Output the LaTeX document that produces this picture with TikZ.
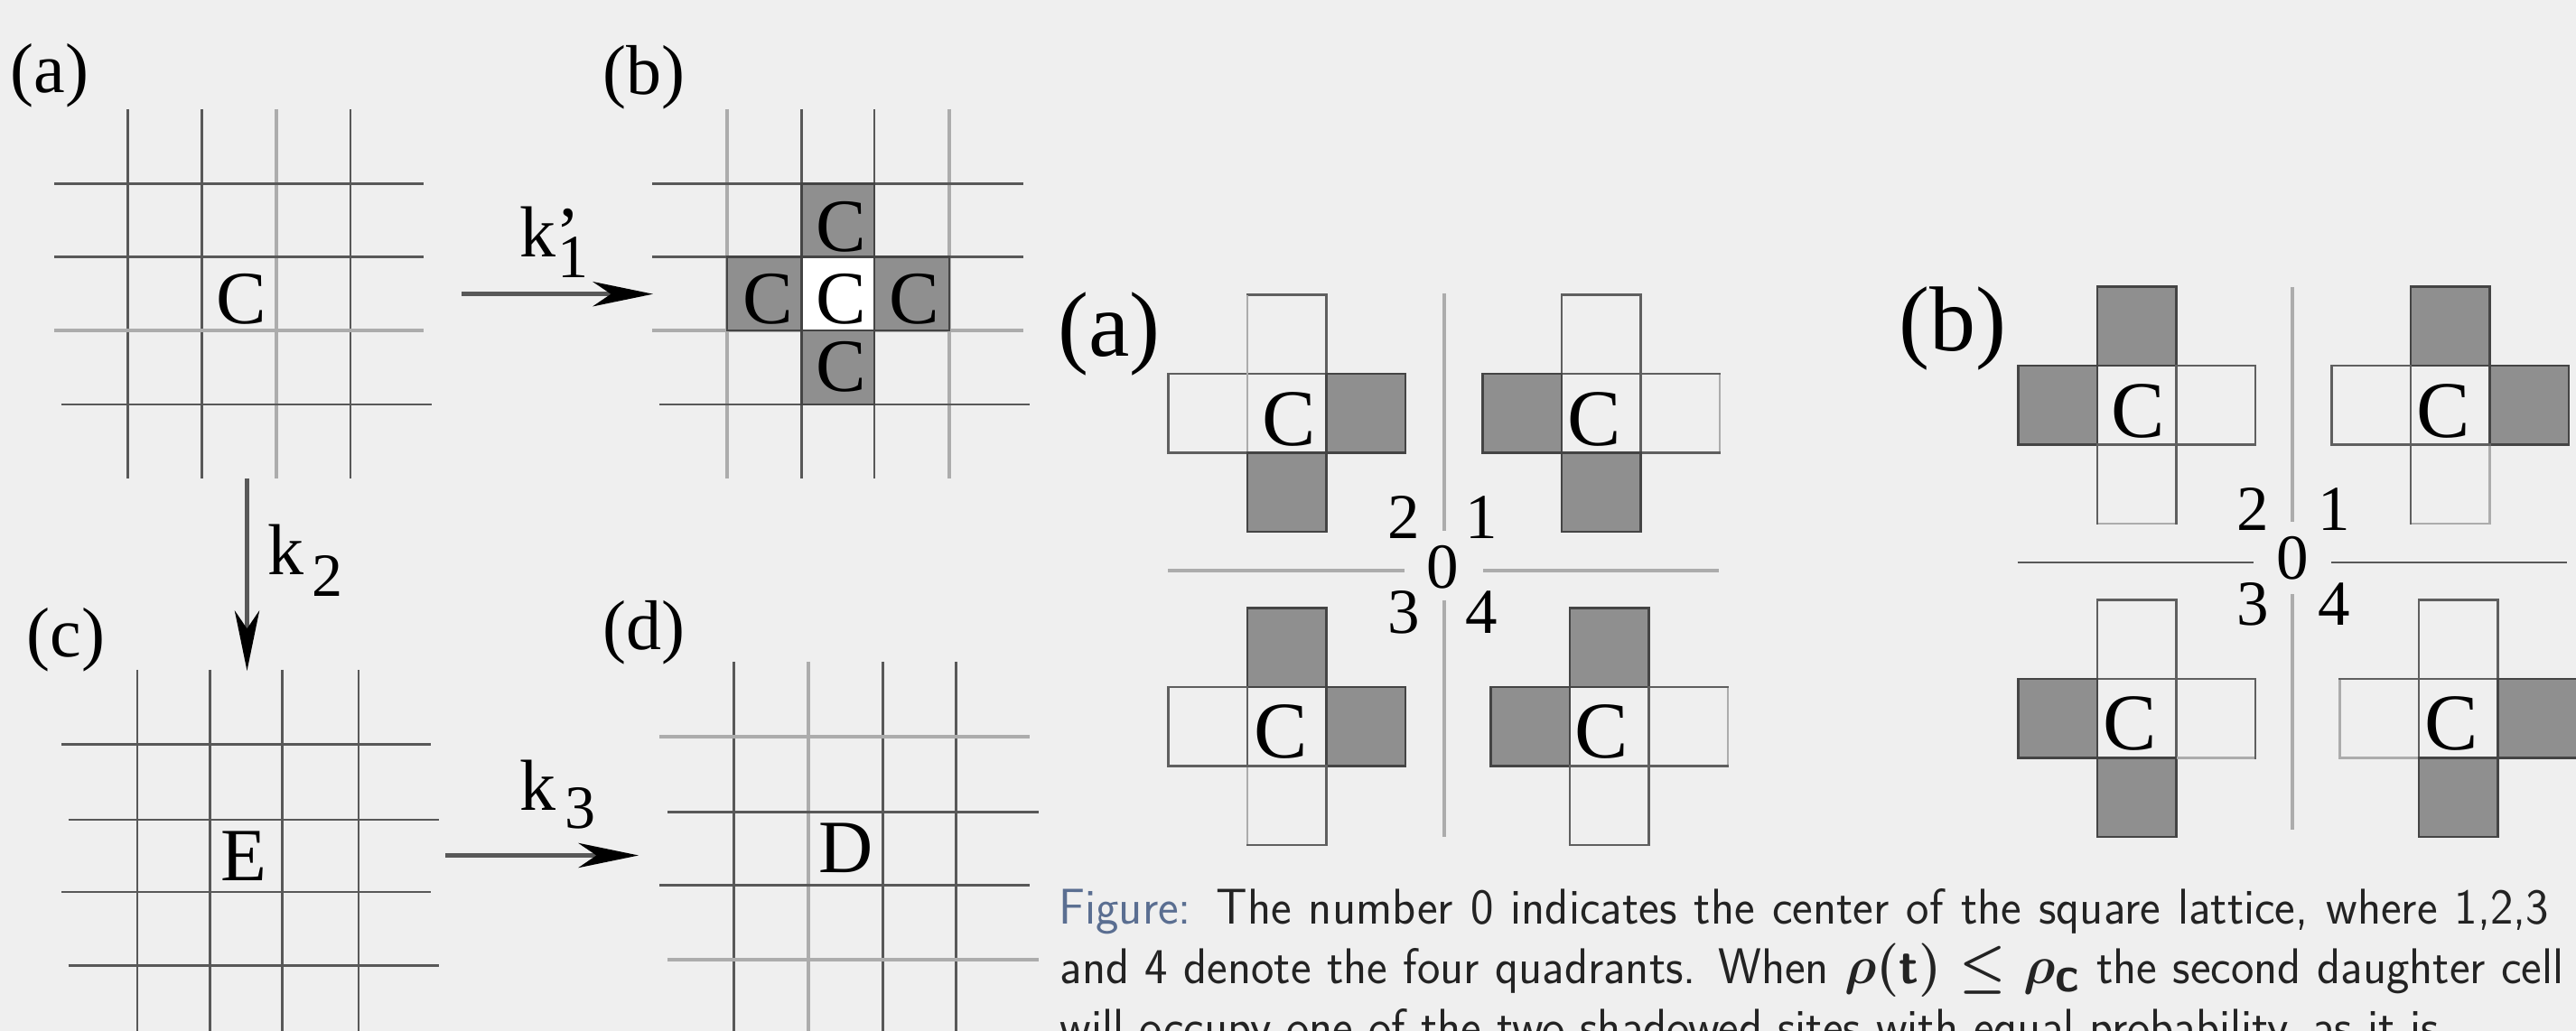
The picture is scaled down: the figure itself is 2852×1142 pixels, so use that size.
\documentclass[tikz,border=0pt]{standalone}
\usepackage{fontspec}
\usepackage{graphicx}
\usetikzlibrary{arrows.meta}
\newfontfamily\tnr{Liberation Serif}
\definecolor{bg}{RGB}{239,239,239}
\definecolor{darkln}{RGB}{88,88,88}
\definecolor{lightln}{RGB}{172,172,172}
\definecolor{shadefill}{RGB}{143,143,143}
\definecolor{edgedk}{RGB}{68,68,68}
\definecolor{edgemd}{RGB}{95,95,95}
\definecolor{capblue}{RGB}{90,110,145}
\definecolor{captext}{RGB}{35,35,35}
\newcommand\plusx[6]{%
  \path[wcell] (#1,#2) rectangle ++(87.5,87.5);
  \path[#3] (#1,#2-87.5) rectangle ++(87.5,87.5);
  \path[#4] (#1-87.5,#2) rectangle ++(87.5,87.5);
  \path[#5] (#1+87.5,#2) rectangle ++(87.5,87.5);
  \path[#6] (#1,#2+87.5) rectangle ++(87.5,87.5);
}
\newcommand\capline[2]{\scalebox{1}[1.03]{\makebox[#1][s]{#2}}}
\begin{document}
\begin{tikzpicture}[x=0.3pt,y=-0.3pt,
  dk/.style={draw=darkln,line width=0.75pt},
  lt/.style={draw=lightln,line width=1.2pt},
  ltedge/.style={draw=lightln,line width=0.85pt},
  wcell/.style={draw=edgemd,line width=0.8pt},
  scell/.style={draw=edgedk,fill=shadefill,line width=0.8pt},
  lshade/.style={draw=edgedk,fill=shadefill,line width=0.75pt},
  lwhite/.style={draw=edgedk,fill=white,line width=0.75pt},
  arr/.style={draw=darkln,line width=1.4pt,-{Stealth[length=20pt,width=8.2pt,inset=6pt,color=black]}},
  lab/.style={font=\tnr\fontsize{23.4pt}{28pt}\selectfont,inner sep=0pt,anchor=base},
  bigl/.style={font=\tnr\fontsize{30.6pt}{36pt}\selectfont,inner sep=0pt,anchor=base},
  cl/.style={font=\tnr\fontsize{25pt}{30pt}\selectfont,inner sep=0pt,anchor=base},
  cr/.style={font=\tnr\fontsize{26.7pt}{32pt}\selectfont,inner sep=0pt,anchor=base},
  num/.style={font=\tnr\fontsize{21.3pt}{26pt}\selectfont,inner sep=0pt,anchor=base},
  kl/.style={font=\tnr\fontsize{24pt}{28pt}\selectfont,inner sep=0pt,anchor=base west},
  ks/.style={font=\tnr\fontsize{20.4pt}{24pt}\selectfont,inner sep=0pt,anchor=base},
  captxt/.style={font=\sffamily\fontsize{16.2pt}{20pt}\selectfont,text=captext,inner sep=0pt,anchor=base west}]
\fill[bg] (0,0) rectangle (2852,1142);
\useasboundingbox (0,0) rectangle (2852,1142);
\begin{scope}
\clip (0,0) rectangle (2852,1142);
% ---------- left figure: grid (a)
\foreach \x/\s in {141.5/dk,223.7/dk,305.8/lt,388/dk} \draw[\s] (\x,121) -- (\x,530);
\draw[dk] (60,203.6) -- (469,203.6);
\draw[dk] (60,284.3) -- (469,284.3);
\draw[lt] (60,366) -- (469,366);
\draw[dk] (67.5,448.2) -- (478,448.2);
\node[lab] (la) at (55,103) {(a)};
\node[cl] (ca) at (267,359) {C};
% grid (b)
\foreach \x/\s in {805/lt,887.4/dk,968/dk,1051/lt} \draw[\s] (\x,121) -- (\x,530);
\draw[dk] (722,203.6) -- (1133,203.6);
\draw[dk] (722,284.3) -- (1133,284.3);
\draw[lt] (722,366) -- (1133,366);
\draw[dk] (730,448.2) -- (1140,448.2);
\path[lwhite] (887.4,284.3) rectangle (968,366);
\path[lshade] (887.4,203.6) rectangle (968,284.3);
\path[lshade] (805,284.3) rectangle (887.4,366);
\path[lshade] (968,284.3) rectangle (1051,366);
\path[lshade] (887.4,366) rectangle (968,448.2);
\node[lab] (lb) at (713,105) {(b)};
\node[cl] (cbt) at (931,278.5) {C};
\node[cl] (cbl) at (850.7,359) {C};
\node[cl] (cbc) at (931,359) {C};
\node[cl] (cbr) at (1012,359) {C};
\node[cl] (cbb) at (931,434) {C};
% grid (c)
\foreach \x in {151.8,232.5,312.4,396.8} \draw[dk] (\x,742) -- (\x,1150);
\draw[dk] (68,824.3) -- (477,824.3);
\draw[dk] (75.5,908.2) -- (485.5,908.2);
\draw[dk] (68,988) -- (477,988);
\draw[dk] (75.5,1069.3) -- (485.5,1069.3);
\node[lab] (lc) at (73,728) {(c)};
\node[cl] (ce) at (269.5,975.7) {E};
% grid (d)
\foreach \x/\s in {812.6/dk,894.8/lt,977.6/dk,1058.3/dk} \draw[\s] (\x,733) -- (\x,1150);
\draw[lt] (730,816) -- (1140,816);
\draw[dk] (739,899.6) -- (1150,899.6);
\draw[dk] (730,980.6) -- (1140,980.6);
\draw[lt] (739,1063) -- (1150,1063);
\node[lab] (ld) at (713,720) {(d)};
\node[cl] (cd) at (937,966.5) {D};
% arrows
\coordinate (k1s) at (511,325.7);
\coordinate (k1e) at (723,325.7);
\draw[arr] (k1s) -- (k1e);
\node[kl] (k1) at (575,285) {k’};
\node[ks] (k1i) at (634,308) {1};
\coordinate (k2s) at (273.5,530);
\coordinate (k2e) at (273.5,743);
\draw[arr] (k2s) -- (k2e);
\node[kl] (k2) at (296,637) {k};
\node[ks] (k2i) at (362.5,660.7) {2};
\coordinate (k3s) at (493,947.5);
\coordinate (k3e) at (707,947.5);
\draw[arr] (k3s) -- (k3e);
\node[kl] (k3) at (575,897) {k};
\node[ks] (k3i) at (642.5,917) {3};
% ---------- right figure (a)
\draw[lt] (1599,325) -- (1599,588);
\draw[lt] (1599,665) -- (1599,927);
\draw[lt] (1293,631.7) -- (1555,631.7);
\draw[lt] (1642,631.7) -- (1903,631.7);
\plusx{1381}{414}{wcell}{wcell}{scell}{scell}
\plusx{1729}{414}{wcell}{scell}{wcell}{scell}
\plusx{1381}{761}{scell}{wcell}{scell}{wcell}
\plusx{1738}{761}{scell}{scell}{wcell}{wcell}
\draw[ltedge] (1381,327) -- (1381,500);
\draw[ltedge] (1904,415) -- (1904,500);
\draw[ltedge] (1381,850) -- (1381,935);
\draw[ltedge] (1913,762) -- (1913,847);
\node[bigl] (ra) at (1228,395) {(a)};
\node[cr] (rac1) at (1427.5,494) {C};
\node[cr] (rac2) at (1765,494) {C};
\node[cr] (rac3) at (1418,840) {C};
\node[cr] (rac4) at (1773,840) {C};
\node[num] (ran2) at (1554,597) {2};
\node[num] (ran1) at (1640.6,597) {1};
\node[num] (ran0) at (1597.5,651.7) {0};
\node[num] (ran3) at (1554,702) {3};
\node[num] (ran4) at (1640.6,702) {4};
% ---------- right figure (b)
\draw[lt] (2538,318) -- (2538,578);
\draw[lt] (2538,658.5) -- (2538,919);
\draw[dk] (2233.7,623) -- (2494.5,623);
\draw[dk] (2581,623) -- (2842,623);
\plusx{2322}{405}{scell}{scell}{wcell}{wcell}
\plusx{2669}{405}{scell}{wcell}{scell}{wcell}
\plusx{2322}{752}{wcell}{scell}{wcell}{scell}
\plusx{2678}{752}{wcell}{wcell}{scell}{scell}
\draw[ltedge] (2323,580) -- (2408,580);
\draw[ltedge] (2756.5,494) -- (2756.5,580) -- (2670,580);
\draw[ltedge] (2410,839.5) -- (2496,839.5);
\draw[ltedge] (2590.5,753) -- (2590.5,839.5) -- (2677,839.5);
\node[bigl] (rb) at (2162,389) {(b)};
\node[cr] (rbc1) at (2367,485) {C};
\node[cr] (rbc2) at (2705,485) {C};
\node[cr] (rbc3) at (2358.6,831) {C};
\node[cr] (rbc4) at (2714.6,831) {C};
\node[num] (rbn2) at (2494.5,588) {2};
\node[num] (rbn1) at (2584,588) {1};
\node[num] (rbn0) at (2538,641.6) {0};
\node[num] (rbn3) at (2494.5,693) {3};
\node[num] (rbn4) at (2584,693) {4};
% ---------- caption
\node[captxt] (cap1) at (1172,1023) {\capline{494.9pt}{\textcolor{capblue}{Figure:} The number 0 indicates the center of the square lattice, where 1,2,3}};
\node[captxt] (cap2) at (1173,1089.7) {\capline{499.5pt}{and 4 denote the four quadrants. When {\boldmath$\rho(\textbf{t})\leq\rho_{\textbf{c}}$} the second daughter cell}};
\node[captxt] (cap3) at (1173,1156.4) {\scalebox{1}[1.03]{will occupy one of the two shadowed sites with equal probability, as it is}};
\end{scope}
\end{tikzpicture}
\end{document}
